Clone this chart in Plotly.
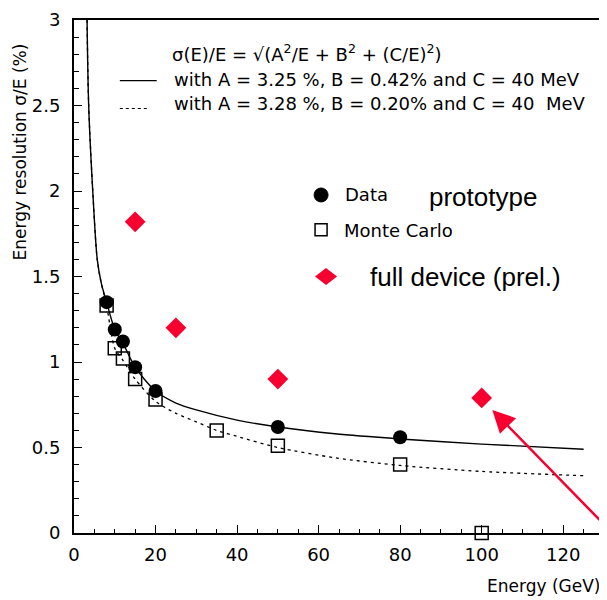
import plotly.graph_objects as go

# ---- data ----
data_E = [8, 10, 12, 15, 20, 50, 80]
data_res = [1.35, 1.19, 1.12, 0.97, 0.83, 0.62, 0.56]

mc_E = [8, 10, 12, 15, 20, 35, 50, 80, 100]
mc_res = [1.33, 1.08, 1.02, 0.90, 0.78, 0.60, 0.51, 0.40, 0.0]

full_E = [15, 25, 50, 100]
full_res = [1.82, 1.20, 0.90, 0.79]

fit1_E = [3.2, 3.6, 4.6, 5.7, 6.7, 8.0, 10, 12, 15, 20, 25, 30, 40, 50, 64, 80, 100, 125]
fit1_res = [3.0, 2.5, 2.0, 1.6, 1.46, 1.35, 1.19, 1.11, 0.97, 0.83, 0.76, 0.72, 0.66, 0.62, 0.58, 0.55, 0.52, 0.49]

fit2_E = [3.2, 3.6, 4.6, 5.7, 6.7, 8.0, 10, 12, 15, 20, 25, 30, 35, 40, 50, 64, 80, 100, 125]
fit2_res = [3.0, 2.5, 2.0, 1.6, 1.46, 1.33, 1.08, 1.01, 0.90, 0.77, 0.70, 0.65, 0.60, 0.565, 0.50, 0.44, 0.395, 0.36, 0.335]

x_ticks = [0, 20, 40, 60, 80, 100, 120]
y_ticks = [0, 0.5, 1, 1.5, 2, 2.5, 3]
y_tick_labels = ["0", "0.5", "1", "1.5", "2", "2.5", "3"]

RED = "#f70030"
FONT = "DejaVu Sans"
ARIAL = "Liberation Sans"

fig = go.Figure()
fig.add_trace(go.Scatter(x=fit2_E, y=fit2_res, mode="lines", line=dict(color="black", width=1.3, dash="3px,4px", shape="spline", smoothing=0.8), hoverinfo="skip"))
fig.add_trace(go.Scatter(x=fit1_E, y=fit1_res, mode="lines", line=dict(color="black", width=1.4, shape="spline", smoothing=0.8), hoverinfo="skip"))
fig.add_trace(go.Scatter(x=mc_E, y=mc_res, mode="markers", cliponaxis=False,
                         marker=dict(symbol="square-open", size=13, color="black", line=dict(width=1.5, color="black"))))
fig.add_trace(go.Scatter(x=data_E, y=data_res, mode="markers", cliponaxis=False,
                         marker=dict(symbol="circle", size=14, color="black")))
fig.add_trace(go.Scatter(x=full_E, y=full_res, mode="markers", cliponaxis=False,
                         marker=dict(symbol="diamond", size=16, color=RED, line=dict(width=0))))

# page has an 8px body margin; plot area should sit at page x 74..606, y 17..533
OFF = 8
FW, FH = 607 - OFF, 600 - OFF
L, T, W, H = 74 - OFF, 17 - OFF, 532, 516

def px(xp):  # page x -> paper
    return (xp - OFF - L) / W
def py(yp):  # page y -> paper
    return (T + H - (yp - OFF)) / H

ann = []
ann.append(dict(text="σ(E)/E = √(A<sup>2</sup>/E + B<sup>2</sup> + (C/E)<sup>2</sup>)", x=px(170), y=py(50), xref="paper", yref="paper",
                xanchor="left", yanchor="middle", showarrow=False, font=dict(family=FONT, size=18, color="black")))
ann.append(dict(text="with A = 3.25 %, B = 0.42% and C = 40 MeV", x=px(172), y=py(77), xref="paper", yref="paper",
                xanchor="left", yanchor="middle", showarrow=False, font=dict(family=FONT, size=18, color="black")))
ann.append(dict(text="with A = 3.28 %, B = 0.20% and C = 40  MeV", x=px(172), y=py(101), xref="paper", yref="paper",
                xanchor="left", yanchor="middle", showarrow=False, font=dict(family=FONT, size=18, color="black")))
ann.append(dict(text="Data", x=px(344), y=py(193), xref="paper", yref="paper",
                xanchor="left", yanchor="middle", showarrow=False, font=dict(family=FONT, size=18, color="black")))
ann.append(dict(text="Monte Carlo", x=px(343), y=py(229), xref="paper", yref="paper",
                xanchor="left", yanchor="middle", showarrow=False, font=dict(family=FONT, size=18, color="black")))
ann.append(dict(text="prototype", x=px(428), y=py(195), xref="paper", yref="paper",
                xanchor="left", yanchor="middle", showarrow=False, font=dict(family=ARIAL, size=26, color="black")))
ann.append(dict(text="full device (prel.)", x=px(369), y=py(276), xref="paper", yref="paper",
                xanchor="left", yanchor="middle", showarrow=False, font=dict(family=ARIAL, size=26, color="black")))
ann.append(dict(text="Energy resolution σ/E (%)", x=px(20), y=py(150), xref="paper", yref="paper", textangle=-90,
                xanchor="center", yanchor="middle", showarrow=False, font=dict(family=FONT, size=17, color="black")))
ann.append(dict(text="Energy (GeV)", x=px(604), y=py(586), xref="paper", yref="paper",
                xanchor="right", yanchor="middle", showarrow=False, font=dict(family=FONT, size=17, color="black")))
# red arrow
ann.append(dict(text="", x=102.6, y=0.72, xref="x", yref="y", ax=130, ay=0.05, axref="x", ayref="y",
                showarrow=True, arrowhead=2, arrowsize=1.8, arrowwidth=2.5, arrowcolor=RED, standoff=0, startstandoff=0))

shapes = []
shapes.append(dict(type="line", xref="paper", yref="paper", x0=px(120), x1=px(157), y0=py(78), y1=py(78),
                   line=dict(color="black", width=1.2)))
shapes.append(dict(type="line", xref="paper", yref="paper", x0=px(120), x1=px(148), y0=py(106), y1=py(106),
                   line=dict(color="black", width=1.2, dash="3px,3px")))
shapes.append(dict(type="circle", xref="paper", yref="paper", xsizemode="pixel", ysizemode="pixel",
                   xanchor=px(322), yanchor=py(193), x0=-7, x1=7, y0=-7, y1=7,
                   fillcolor="black", line=dict(color="black", width=1)))
shapes.append(dict(type="rect", xref="paper", yref="paper", xsizemode="pixel", ysizemode="pixel",
                   xanchor=px(322), yanchor=py(228), x0=-6, x1=6, y0=-6, y1=6,
                   fillcolor="rgba(0,0,0,0)", line=dict(color="black", width=1.5)))
shapes.append(dict(type="path", xref="paper", yref="paper", xsizemode="pixel", ysizemode="pixel",
                   xanchor=px(327), yanchor=py(275), path="M -11 0 L 0 8.5 L 11 0 L 0 -8.5 Z",
                   fillcolor=RED, line=dict(color=RED, width=0)))

fig.update_layout(
    width=FW, height=FH,
    margin=dict(l=L, r=FW - L - W, t=T, b=FH - T - H, pad=0),
    paper_bgcolor="white", plot_bgcolor="white",
    showlegend=False,
    annotations=ann, shapes=shapes,
    xaxis=dict(range=[0, 130], tickvals=x_ticks, ticks="inside", ticklen=8, tickwidth=1, tickcolor="black",
               minor=dict(dtick=5, ticks="inside", ticklen=4, tickwidth=1, tickcolor="black"),
               showgrid=False, zeroline=False, showline=True, linewidth=2, linecolor="black", mirror=True,
               tickfont=dict(family=FONT, size=18, color="black"), ticklabelstandoff=4,
               ticklabeloverflow="allow"),
    yaxis=dict(range=[0, 3], tickvals=y_ticks, ticktext=y_tick_labels, ticks="inside", ticklen=8, tickwidth=1, tickcolor="black",
               minor=dict(dtick=0.1, ticks="inside", ticklen=5, tickwidth=1, tickcolor="black"),
               showgrid=False, zeroline=False, showline=True, linewidth=2, linecolor="black", mirror=True,
               tickfont=dict(family=FONT, size=18, color="black"), ticklabelstandoff=8,
               ticklabeloverflow="allow"),
)

fig.write_html("out.html")
